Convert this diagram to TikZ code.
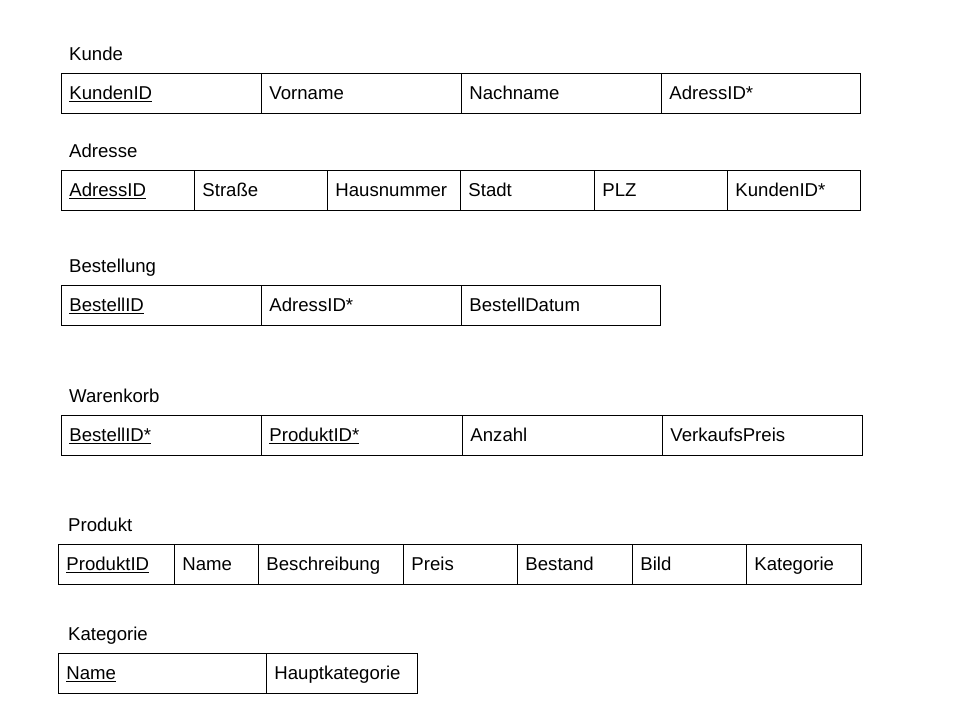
\documentclass[tikz,border=0pt]{standalone}
\usepackage{fontspec}
\setmainfont{Liberation Sans}
\begin{document}
\begin{tikzpicture}[x=1pt,y=-1pt,
  cell/.style={draw, line width=0.9pt, anchor=north west, inner xsep=8pt, inner ysep=0pt,
    minimum height=40pt, text width=\dimexpr#1pt-16pt\relax, align=left,
    text height=16.5pt, text depth=3.5pt,
    font=\fontsize{18.6}{22}\selectfont},
  tabtitle/.style={anchor=base west, inner sep=0pt, font=\fontsize{18.6}{22}\selectfont}]
\useasboundingbox[fill=white] (0,0) rectangle (960,720);

% Kunde
\node[tabtitle] (kt) at (69,60) {Kunde};
\node[cell=200] (k1) at (61,73) {\underline{KundenID}};
\node[cell=200] (k2) at (261,73) {Vorname};
\node[cell=200] (k3) at (461,73) {Nachname};
\node[cell=199] (k4) at (661,73) {AdressID*};

% Adresse
\node[tabtitle] (at) at (69,157) {Adresse};
\node[cell=133] (a1) at (61,170) {\underline{AdressID}};
\node[cell=133] (a2) at (194,170) {Straße};
\node[cell=133] (a3) at (327,170) {Hausnummer};
\node[cell=134] (a4) at (460,170) {Stadt};
\node[cell=133] (a5) at (594,170) {PLZ};
\node[cell=133] (a6) at (727,170) {KundenID*};

% Bestellung
\node[tabtitle] (bt) at (69,272) {Bestellung};
\node[cell=200] (b1) at (61,285) {\underline{BestellID}};
\node[cell=200] (b2) at (261,285) {AdressID*};
\node[cell=199] (b3) at (461,285) {BestellDatum};

% Warenkorb
\node[tabtitle] (wt) at (69,402) {Warenkorb};
\node[cell=200] (w1) at (61,415) {\underline{BestellID*}};
\node[cell=201] (w2) at (261,415) {\underline{ProduktID*}};
\node[cell=200] (w3) at (462,415) {Anzahl};
\node[cell=200] (w4) at (662,415) {VerkaufsPreis};

% Produkt
\node[tabtitle] (pt) at (68,531) {Produkt};
\node[cell=116] (p1) at (58,544) {\underline{ProduktID}};
\node[cell=84] (p2) at (174,544) {Name};
\node[cell=145] (p3) at (258,544) {Beschreibung};
\node[cell=114] (p4) at (403,544) {Preis};
\node[cell=115] (p5) at (517,544) {Bestand};
\node[cell=114] (p6) at (632,544) {Bild};
\node[cell=115] (p7) at (746,544) {Kategorie};

% Kategorie
\node[tabtitle] (kat) at (68,640) {Kategorie};
\node[cell=208] (c1) at (58,653) {\underline{Name}};
\node[cell=151] (c2) at (266,653) {Hauptkategorie};
\end{tikzpicture}
\end{document}
